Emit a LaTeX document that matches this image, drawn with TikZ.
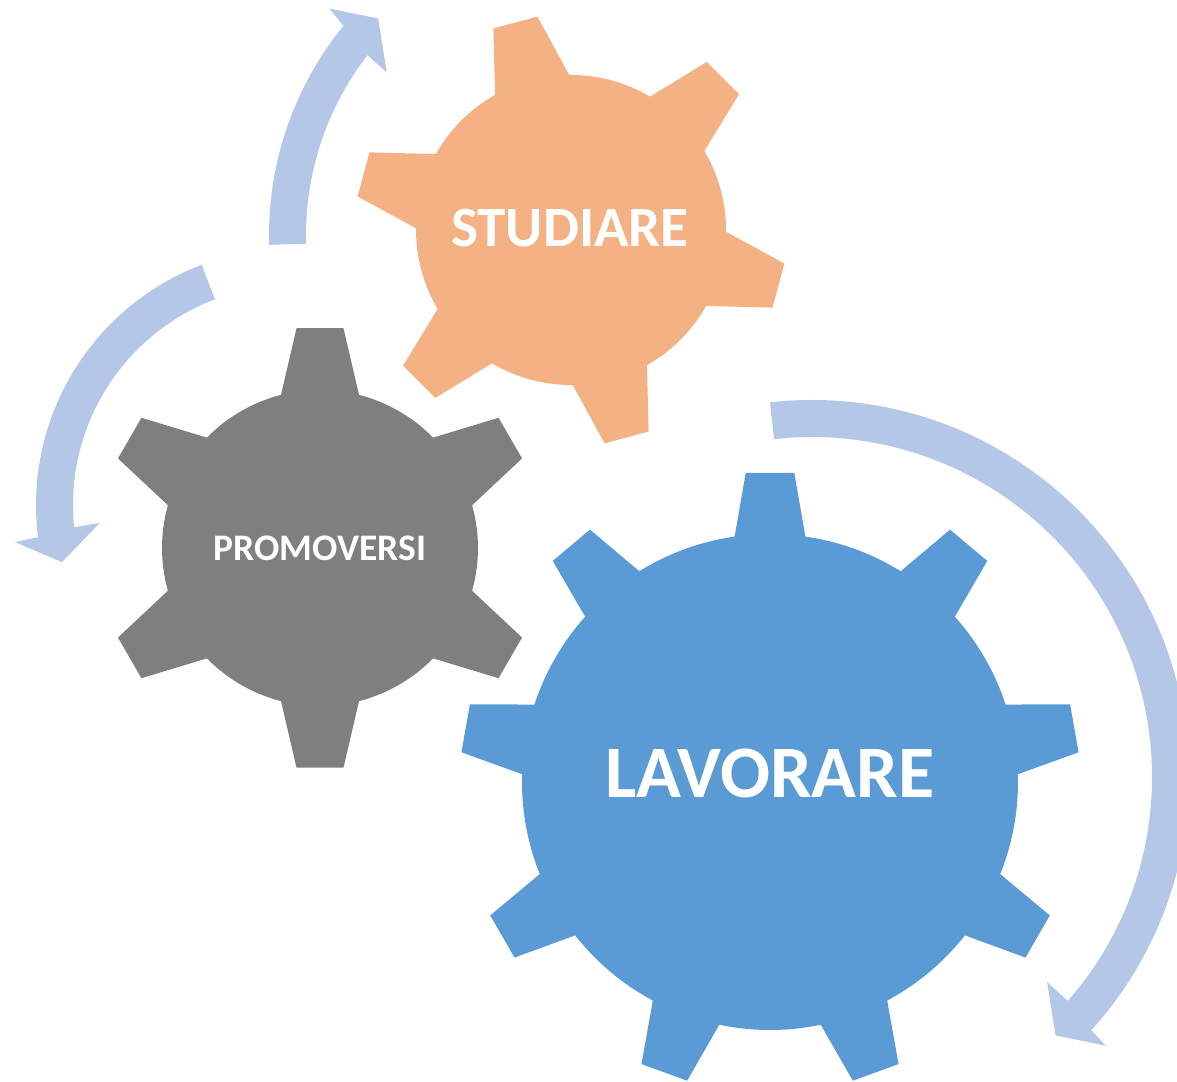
\documentclass[tikz,border=0pt]{standalone}
\usepackage{fontspec}
\setmainfont{Carlito}
\usetikzlibrary{calc}

\definecolor{studiare}{HTML}{F4B183}
\definecolor{promo}{HTML}{7F7F7F}
\definecolor{lavoro}{HTML}{5B9BD5}
\definecolor{freccia}{HTML}{B4C7E7}

\tikzset{
  geartext/.style={text=white,inner sep=0pt},
}

\begin{document}
\begin{tikzpicture}[x=1pt,y=1pt]
\useasboundingbox (0,0) rectangle (1177,1081);
\clip (0,0) rectangle (1177,1081);
		\coordinate (S) at (571,851);
		\coordinate (P) at (320,533);
		\coordinate (L) at (770,299);
		\coordinate (A) at (600,846);
		\coordinate (B) at (293,576);
		\coordinate (C) at (812,304);
		% frecce
		\begin{scope}[shift={(A)}]
		\fill[freccia] (181.7:331) arc[start angle=181.7,end angle=140.8,radius=331]
			-- (140.1:353) -- (135.7:310) -- (142.7:268) -- (142.3:294)
			arc[start angle=142.3,end angle=181.7,radius=294] -- cycle;
		\end{scope}
		\begin{scope}[shift={(B)}]
		\fill[freccia] (110.8:257) arc[start angle=110.8,end angle=187.2,radius=257]
			-- (187.6:280.5) -- (193.9:238) -- (185.3:194) -- (185.8:220)
			arc[start angle=185.8,end angle=110.8,radius=220] -- cycle;
		\end{scope}
		\begin{scope}[shift={(C)}]
		\fill[freccia] (96.4:377) arc[start angle=96.4,end angle=-42.2,radius=377]
			-- (-42.45:398) -- (-46.7:355) -- (-41.1:312) -- (-41.2:340)
			arc[start angle=-41.2,end angle=96.4,radius=340] -- cycle;
		\end{scope}
		% ingranaggi
		\begin{scope}[shift={(S)}]
		\fill[studiare] (105-14.35:155)
			\foreach \a in {105,165,...,405} {
				-- (\a-6.06:216) -- (\a+6.06:216) -- (\a+14.35:155)
				arc[start angle=\a+14.35,end angle=\a+45.65,radius=155]
			} -- cycle;
		\end{scope}
		\begin{scope}[shift={(P)}]
		\fill[promo] (90-14.3:158)
			\foreach \a in {90,150,...,390} {
				-- (\a-6.1:221) -- (\a+6.1:221) -- (\a+14.3:158)
				arc[start angle=\a+14.3,end angle=\a+45.7,radius=158]
			} -- cycle;
		\end{scope}
		\begin{scope}[shift={(L)}]
		\fill[lavoro] (90-8.2:248)
			\foreach \a in {90,130,...,410} {
				-- (\a-4.5:310) -- (\a+4.5:310) -- (\a+8.2:248)
				arc[start angle=\a+8.2,end angle=\a+31.8,radius=248]
			} -- cycle;
		\end{scope}
		\node[geartext,font=\bfseries\fontsize{57}{60}\selectfont] (studiare) at (570,853) {STUDIARE};
		\node[geartext,font=\bfseries\fontsize{37.5}{40}\selectfont] (promoversi) at (P) {PROMOVERSI};
		\node[geartext,font=\bfseries\fontsize{74}{78}\selectfont] (lavorare) at (770,307.5) {LAVORARE};
\end{tikzpicture}
\end{document}
